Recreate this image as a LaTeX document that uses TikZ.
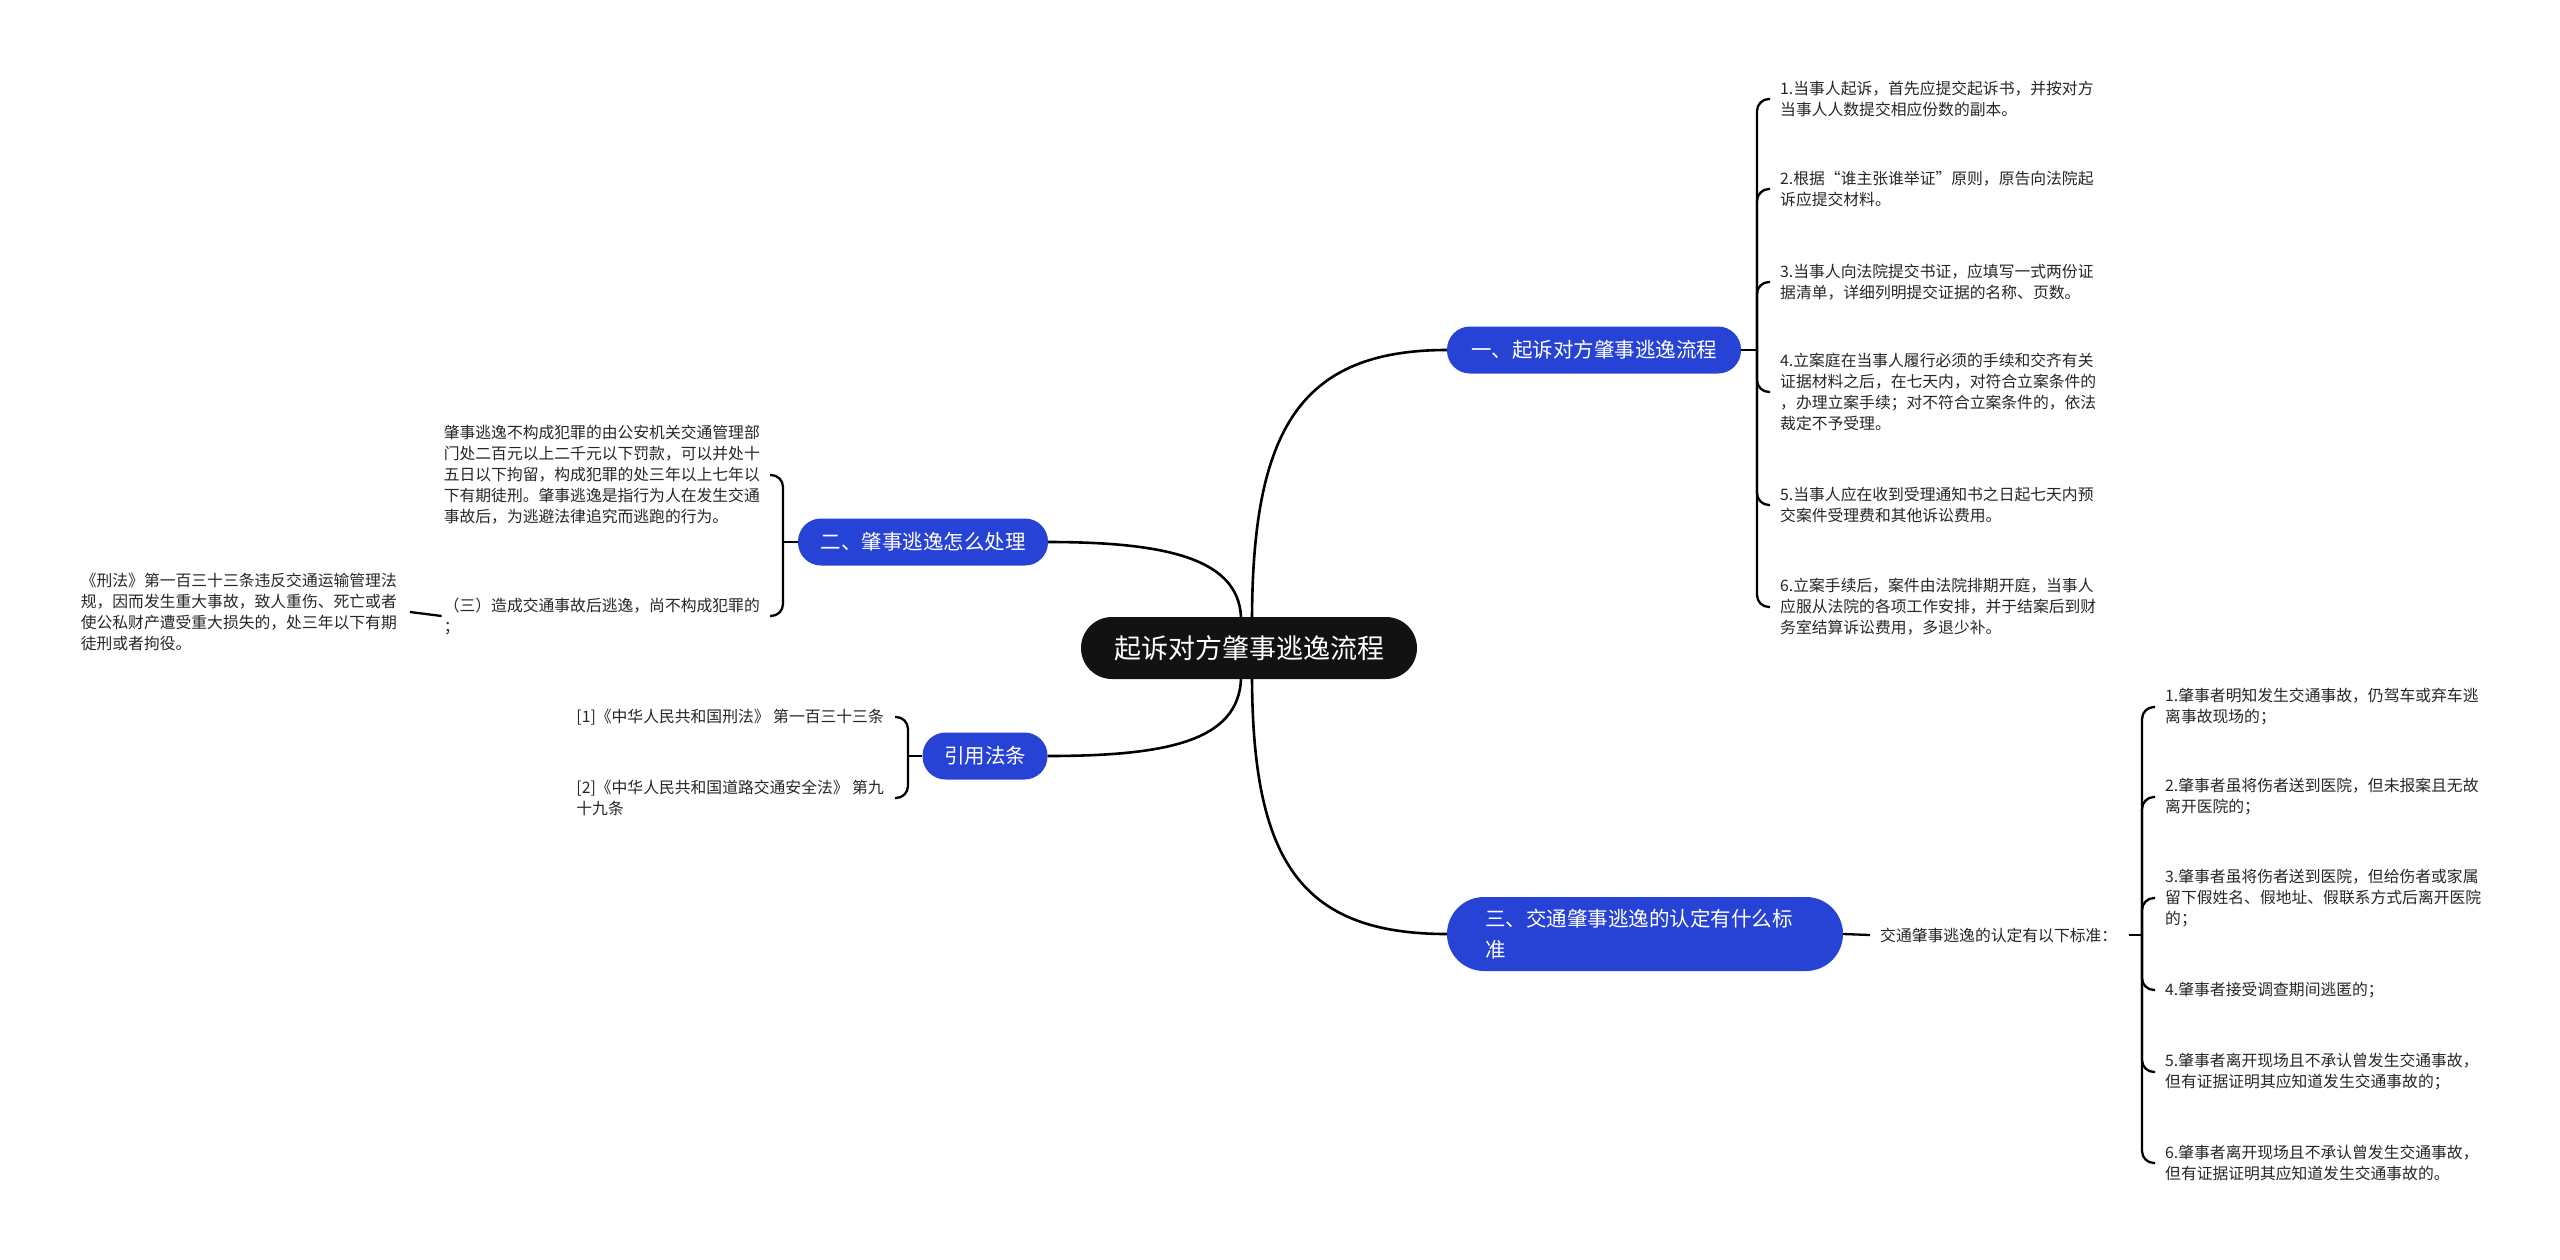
\documentclass[tikz,border=0pt]{standalone}
\usepackage{fontspec}
\newfontfamily\cjk{Noto Sans CJK SC}
\definecolor{branchblue}{HTML}{2743D6}
\definecolor{txt}{HTML}{262626}
\begin{document}
\begin{tikzpicture}[x=1pt,y=-1pt,
  conn/.style={draw=black, line width=2.3pt},
  rootconn/.style={draw=black, line width=2.6pt},
  leaf/.style={font=\cjk\fontsize{15.8}{21}\selectfont, text=txt, align=left, inner sep=0pt},
  branch/.style={fill=branchblue, text=white, font=\cjk\fontsize{20.5}{31}\selectfont, rounded corners=23pt, minimum height=47pt, inner sep=0pt},
  rootbox/.style={fill=black!93, text=white, font=\cjk\fontsize{27}{32}\selectfont, rounded corners=31pt, minimum height=62pt, minimum width=336pt, inner sep=0pt}
]
\useasboundingbox (0,0) rectangle (2560,1259);

% central and main branches
\node[rootbox] (root) at (1249,648) {起诉对方肇事逃逸流程};
\node[branch, minimum width=294pt] (b1) at (1594,350) {一、起诉对方肇事逃逸流程};
\node[branch, minimum width=250pt] (b2) at (923,542) {二、肇事逃逸怎么处理};
\node[branch, minimum width=125pt] (b3) at (985,756) {引用法条};
\node[branch, text width=320pt, inner xsep=38pt, align=left, minimum height=74pt, rounded corners=37pt] (b4) at (1645,934) {三、交通肇事逃逸的认定有什么标\\准};

\draw[rootconn] ([xshift=3pt]root.north) .. controls (1253,430) and (1300,350) .. (b1.west);
\draw[rootconn] ([xshift=-8pt]root.north) .. controls (1238,560) and (1170,542) .. (b2.east);
\draw[rootconn] ([xshift=-8pt]root.south) .. controls (1238,740) and (1170,756) .. (b3.east);
\draw[rootconn] ([xshift=3pt]root.south) .. controls (1253,860) and (1300,934) .. (b4.west);

% branch 1 leaves
\node[leaf, anchor=west] (l1) at (1780,99) {1.当事人起诉，首先应提交起诉书，并按对方\\当事人人数提交相应份数的副本。};
\node[leaf, anchor=west] (l2) at (1780,189) {2.根据“谁主张谁举证”原则，原告向法院起\\诉应提交材料。};
\node[leaf, anchor=west] (l3) at (1780,282) {3.当事人向法院提交书证，应填写一式两份证\\据清单，详细列明提交证据的名称、页数。};
\node[leaf, anchor=west] (l4) at (1780,392) {4.立案庭在当事人履行必须的手续和交齐有关\\证据材料之后，在七天内，对符合立案条件的\\，办理立案手续；对不符合立案条件的，依法\\裁定不予受理。};
\node[leaf, anchor=west] (l5) at (1780,505) {5.当事人应在收到受理通知书之日起七天内预\\交案件受理费和其他诉讼费用。};
\node[leaf, anchor=west] (l6) at (1780,607) {6.立案手续后，案件由法院排期开庭，当事人\\应服从法院的各项工作安排，并于结案后到财\\务室结算诉讼费用，多退少补。};
\coordinate (s1) at (1757,350);
\draw[conn] (b1.east) -- (s1);
\foreach \n in {l1,l2,l3,l4,l5,l6}
  \draw[conn, rounded corners=12pt] (s1) |- ([xshift=-10pt]\n.west);

% branch 4
\node[leaf, anchor=west] (c4) at (1880,935) {交通肇事逃逸的认定有以下标准：};
\draw[conn] (b4.east) -- ([xshift=-10pt]c4.west);
\coordinate (s4) at (2142,935);
\draw[conn] ([xshift=12pt]c4.east) -- (s4);
\node[leaf, anchor=west] (m1) at (2165,707) {1.肇事者明知发生交通事故，仍驾车或弃车逃\\离事故现场的；};
\node[leaf, anchor=west] (m2) at (2165,797) {2.肇事者虽将伤者送到医院，但未报案且无故\\离开医院的；};
\node[leaf, anchor=west] (m3) at (2165,898) {3.肇事者虽将伤者送到医院，但给伤者或家属\\留下假姓名、假地址、假联系方式后离开医院\\的；};
\node[leaf, anchor=west] (m4) at (2165,990) {4.肇事者接受调查期间逃匿的；};
\node[leaf, anchor=west] (m5) at (2165,1072) {5.肇事者离开现场且不承认曾发生交通事故，\\但有证据证明其应知道发生交通事故的；};
\node[leaf, anchor=west] (m6) at (2165,1163) {6.肇事者离开现场且不承认曾发生交通事故，\\但有证据证明其应知道发生交通事故的。};
\foreach \n in {m1,m2,m3,m4,m5,m6}
  \draw[conn, rounded corners=12pt] (s4) |- ([xshift=-10pt]\n.west);

% branch 2
\node[leaf, anchor=east] (a1) at (760,475) {肇事逃逸不构成犯罪的由公安机关交通管理部\\门处二百元以上二千元以下罚款，可以并处十\\五日以下拘留，构成犯罪的处三年以上七年以\\下有期徒刑。肇事逃逸是指行为人在发生交通\\事故后，为逃避法律追究而逃跑的行为。};
\node[leaf, anchor=east] (a2) at (760,616) {（三）造成交通事故后逃逸，尚不构成犯罪的\\；};
\node[leaf, anchor=east] (k1) at (397,612) {《刑法》第一百三十三条违反交通运输管理法\\规，因而发生重大事故，致人重伤、死亡或者\\使公私财产遭受重大损失的，处三年以下有期\\徒刑或者拘役。};
\coordinate (s2) at (783,542);
\draw[conn] (b2.west) -- (s2);
\foreach \n in {a1,a2}
  \draw[conn, rounded corners=12pt] (s2) |- ([xshift=10pt]\n.east);
\draw[conn] ([xshift=-2pt]a2.west) -- ([xshift=13pt]k1.east);

% branch 3
\node[leaf, anchor=east] (r1) at (884,717) {[1]《中华人民共和国刑法》 第一百三十三条};
\node[leaf, anchor=east] (r2) at (884,798) {[2]《中华人民共和国道路交通安全法》 第九\\十九条};
\coordinate (s3) at (908,756);
\draw[conn] (b3.west) -- (s3);
\foreach \n in {r1,r2}
  \draw[conn, rounded corners=12pt] (s3) |- ([xshift=11pt]\n.east);
\end{tikzpicture}
\end{document}
